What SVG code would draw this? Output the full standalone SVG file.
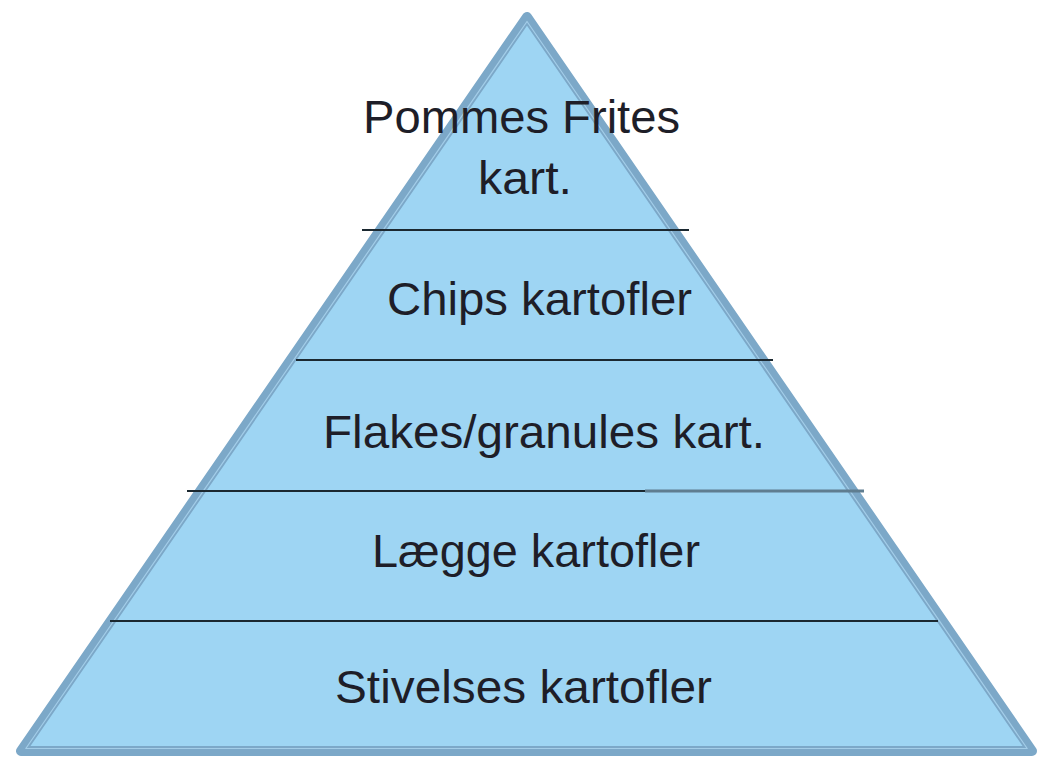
<svg xmlns="http://www.w3.org/2000/svg" width="1039" height="757" viewBox="0 0 1039 757">
<style>
.lbl{font-family:"Liberation Sans",Arial,sans-serif;font-size:46px;fill:#1e1e28;text-anchor:middle}
.sep{stroke:#1b2830;stroke-width:2;fill:none}
</style>
<rect width="1039" height="757" fill="#ffffff"/>
<g id="pyramid">
<path d="M527,17 L21,751 L1032,751 Z" fill="#9ED5F3" stroke="#7CA8C8" stroke-width="10" stroke-linejoin="round"/>
<path d="M527,21.5 L25.8,748.5 L1027.2,748.5 Z" fill="none" stroke="#A3CDE8" stroke-width="1.2" stroke-linejoin="round"/>
</g>
<g id="connectors">
<line class="sep" x1="362" y1="230" x2="689" y2="230"/>
<line class="sep" x1="296" y1="360" x2="773" y2="360"/>
<line class="sep" x1="187" y1="491" x2="645" y2="491"/>
<line x1="645" y1="491" x2="864" y2="491" stroke="#5F7D90" stroke-width="3"/>
<line class="sep" x1="110" y1="621" x2="938" y2="621"/>
</g>
<g id="node-pommes">
<text class="lbl" x="521.5" y="133" textLength="317" lengthAdjust="spacingAndGlyphs">Pommes Frites</text>
<text class="lbl" x="525" y="194" textLength="94" lengthAdjust="spacingAndGlyphs">kart.</text>
</g>
<g id="node-chips">
<text class="lbl" x="539.5" y="315" textLength="305" lengthAdjust="spacingAndGlyphs">Chips kartofler</text>
</g>
<g id="node-flakes">
<text class="lbl" x="544" y="448" textLength="442" lengthAdjust="spacingAndGlyphs">Flakes/granules kart.</text>
</g>
<g id="node-laegge">
<text class="lbl" x="536" y="567" textLength="328" lengthAdjust="spacingAndGlyphs">Lægge kartofler</text>
</g>
<g id="node-stivelses">
<text class="lbl" x="523.5" y="703" textLength="377" lengthAdjust="spacingAndGlyphs">Stivelses kartofler</text>
</g>
</svg>
